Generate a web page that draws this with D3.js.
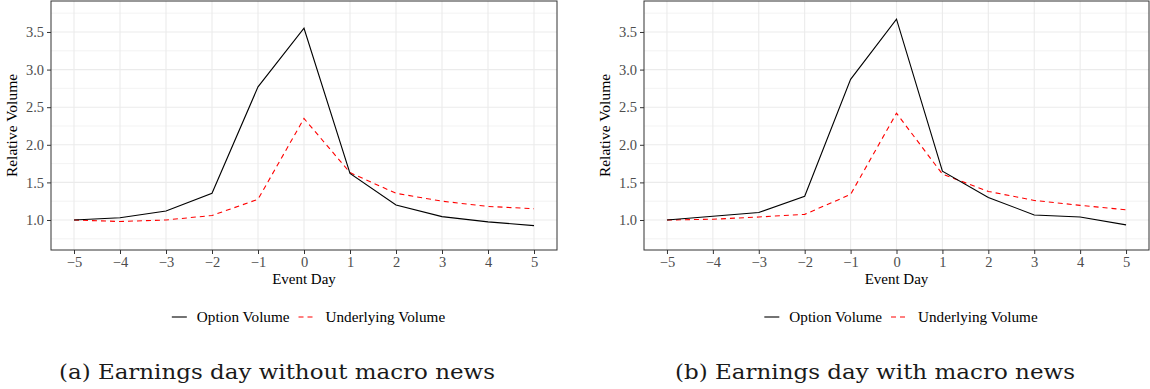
<!DOCTYPE html>
<html>
<head>
<meta charset="utf-8">
<script src="https://cdnjs.cloudflare.com/ajax/libs/d3/7.8.5/d3.min.js"></script>
<style>
  body { margin: 0; background: #fff; }
  svg text { font-family: "Liberation Serif", "Times New Roman", serif; }
</style>
</head>
<body>
<div id="chart"></div>
<script>
// event days and relative volumes
const days = [-5, -4, -3, -2, -1, 0, 1, 2, 3, 4, 5];
const optionNoMacro = [1.00, 1.03, 1.12, 1.355, 2.77, 3.55, 1.62, 1.20, 1.045, 0.975, 0.925];
const underlyingNoMacro = [1.00, 0.98, 1.00, 1.06, 1.275, 2.35, 1.63, 1.355, 1.25, 1.18, 1.15];
const optionMacro = [1.00, 1.05, 1.10, 1.315, 2.87, 3.67, 1.65, 1.30, 1.067, 1.04, 0.935];
const underlyingMacro = [1.00, 1.01, 1.04, 1.075, 1.34, 2.42, 1.61, 1.38, 1.26, 1.195, 1.135];
const yTicks = [1.0, 1.5, 2.0, 2.5, 3.0, 3.5];
const yMinor = [0.75, 1.25, 1.75, 2.25, 2.75, 3.25, 3.75];
const seriesNames = ["Option Volume", "Underlying Volume"];
const captions = ["(a) Earnings day without macro news", "(b) Earnings day with macro news"];

const width = 1150, height = 389;
const svg = d3.select("#chart").append("svg")
    .attr("width", width)
    .attr("height", height);

const panels = [
    {left: 51, right: 557, opt: optionNoMacro, und: underlyingNoMacro, caption: captions[0], capX: 59, capLen: 436},
    {left: 644, right: 1149, opt: optionMacro, und: underlyingMacro, caption: captions[1], capX: 675, capLen: 400}
];
const panelTop = 1, panelBottom = 250;
const serif = "'Liberation Serif', 'Times New Roman', serif";

panels.forEach(p => {
    const x = d3.scaleLinear().domain([-5.5, 5.5]).range([p.left, p.right]);
    const y = d3.scaleLinear().domain([0.601, 3.912]).range([panelBottom, panelTop]);
    const g = svg.append("g");

    // grid
    g.selectAll(".yminor").data(yMinor).join("line")
        .attr("x1", p.left).attr("x2", p.right)
        .attr("y1", d => y(d)).attr("y2", d => y(d))
        .attr("stroke", "#ebebeb").attr("stroke-width", 0.6);
    g.selectAll(".ymajor").data(yTicks).join("line")
        .attr("x1", p.left).attr("x2", p.right)
        .attr("y1", d => y(d)).attr("y2", d => y(d))
        .attr("stroke", "#ebebeb").attr("stroke-width", 1.1);
    g.selectAll(".xmajor").data(days).join("line")
        .attr("y1", panelTop).attr("y2", panelBottom)
        .attr("x1", d => x(d)).attr("x2", d => x(d))
        .attr("stroke", "#ebebeb").attr("stroke-width", 1.1);

    // axes
    const xAxis = g.append("g")
        .attr("transform", `translate(0,${panelBottom})`)
        .call(d3.axisBottom(x).tickValues(days).tickSize(4).tickPadding(3).tickFormat(d3.format("d")));
    const yAxis = g.append("g")
        .attr("transform", `translate(${p.left},0)`)
        .call(d3.axisLeft(y).tickValues(yTicks).tickSize(4).tickPadding(3).tickFormat(d3.format(".1f")));
    [xAxis, yAxis].forEach(a => {
        a.select(".domain").remove();
        a.selectAll(".tick line").attr("stroke", "#333").attr("stroke-width", 1);
        a.selectAll(".tick text")
            .attr("fill", "#4d4d4d")
            .style("font-family", serif)
            .style("font-size", "14.5px");
    });

    // lines
    const line = d3.line().x((d, i) => x(days[i])).y(d => y(d));
    g.append("path").datum(p.und)
        .attr("d", line).attr("fill", "none")
        .attr("stroke", "#ff0000").attr("stroke-width", 1.1)
        .attr("stroke-dasharray", "5,4");
    g.append("path").datum(p.opt)
        .attr("d", line).attr("fill", "none")
        .attr("stroke", "#000").attr("stroke-width", 1.1);

    // panel border
    g.append("rect")
        .attr("x", p.left).attr("y", panelTop)
        .attr("width", p.right - p.left).attr("height", panelBottom - panelTop)
        .attr("fill", "none").attr("stroke", "#333").attr("stroke-width", 1);

    // axis titles
    g.append("text")
        .attr("x", (p.left + p.right) / 2).attr("y", 284)
        .attr("text-anchor", "middle")
        .style("font-size", "15px")
        .text("Event Day");
    g.append("text")
        .attr("transform", `translate(${p.left - 34},${(panelTop + panelBottom) / 2}) rotate(-90)`)
        .attr("text-anchor", "middle")
        .style("font-size", "15.5px")
        .text("Relative Volume");

    // legend
    const leg = g.append("g");
    let cx = 0;
    seriesNames.forEach((name, i) => {
        if (i > 0) cx += 9;
        leg.append("line")
            .attr("x1", cx).attr("x2", cx + 15)
            .attr("y1", 0).attr("y2", 0)
            .attr("stroke", i === 0 ? "#000" : "#ff0000")
            .attr("stroke-width", 1.1)
            .attr("stroke-dasharray", i === 0 ? null : "5,4");
        cx += 15 + (i === 0 ? 10 : 12);
        const t = leg.append("text")
            .attr("x", cx).attr("y", 5)
            .style("font-size", "15.2px")
            .text(name);
        cx += t.node().getComputedTextLength();
    });
    const center = (p.left + p.right) / 2 + 4.5;
    leg.attr("transform", `translate(${center - cx / 2},317)`);

    // caption
    svg.append("text")
        .attr("x", p.capX).attr("y", 379)
        .attr("textLength", p.capLen)
        .attr("lengthAdjust", "spacingAndGlyphs")
        .style("font-family", "'DejaVu Serif', serif")
        .style("font-size", "19.5px")
        .attr("fill", "#1a1a1a")
        .text(p.caption);
});
</script>
</body>
</html>
